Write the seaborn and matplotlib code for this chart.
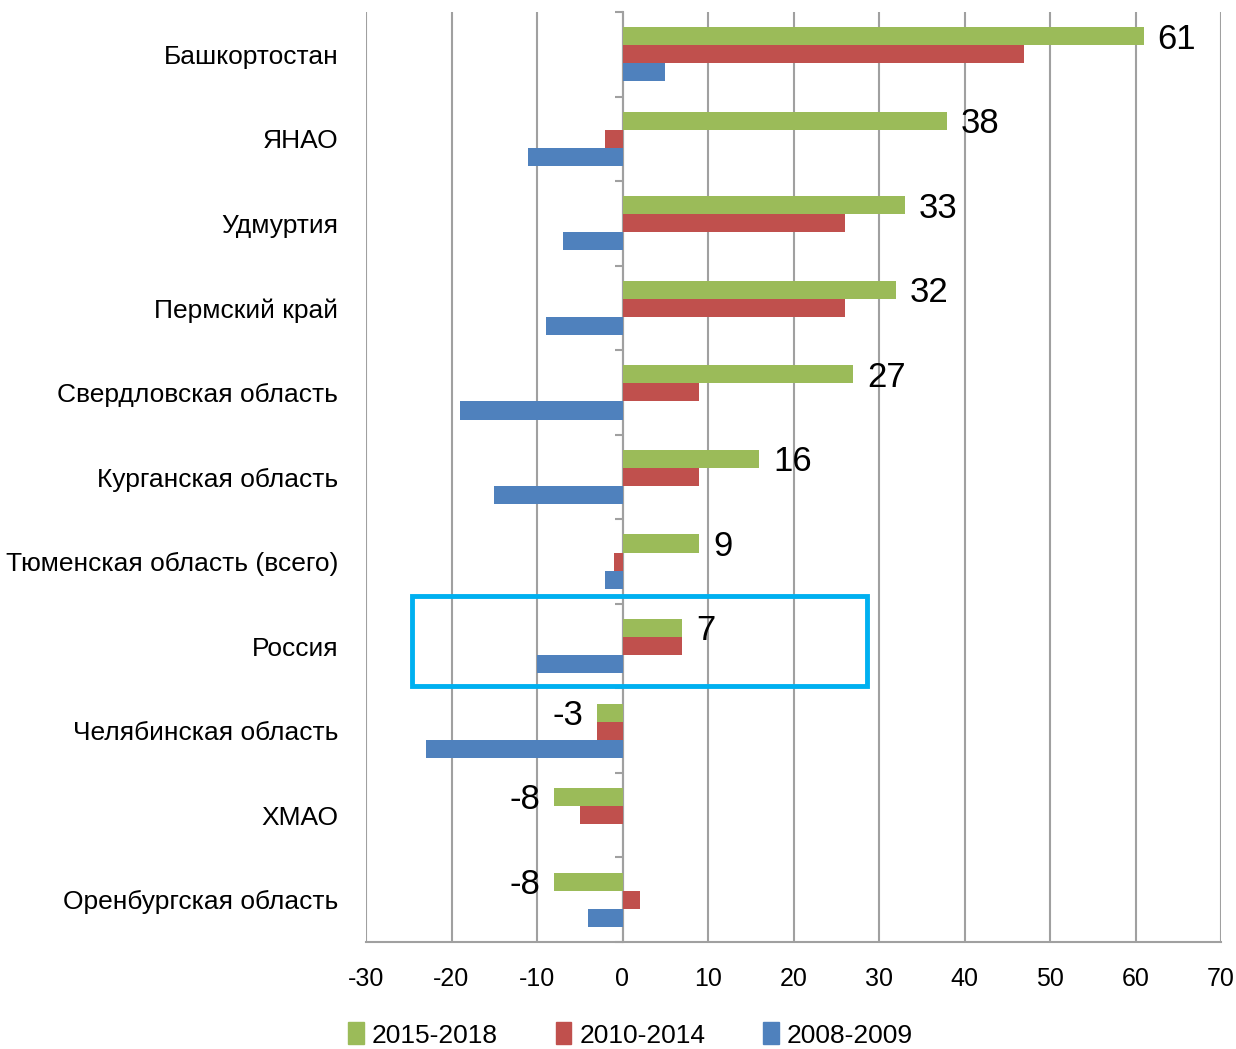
import pandas as pd
import matplotlib.pyplot as plt
import seaborn as sns
from matplotlib.patches import Rectangle

# data
regions = ["Башкортостан", "ЯНАО", "Удмуртия", "Пермский край",
           "Свердловская область", "Курганская область",
           "Тюменская область (всего)", "Россия", "Челябинская область",
           "ХМАО", "Оренбургская область"]
v_2015_2018 = [61, 38, 33, 32, 27, 16, 9, 7, -3, -8, -8]
v_2010_2014 = [47, -2, 26, 26, 9, 9, -1, 7, -3, -5, 2]
v_2008_2009 = [5, -11, -7, -9, -19, -15, -2, -10, -23, 0, -4]
periods = ["2015-2018", "2010-2014", "2008-2009"]
colors = ["#9bbb59", "#c0504d", "#4f81bd"]
xticks = list(range(-30, 71, 10))

df = pd.DataFrame({"region": regions * 3,
                   "period": [p for p in periods for _ in regions],
                   "value": v_2015_2018 + v_2010_2014 + v_2008_2009})

sns.set_style("white")
plt.rcParams["font.family"] = ["Liberation Sans", "DejaVu Sans"]
plt.rcParams["axes.unicode_minus"] = False
plt.rcParams["text.color"] = "black"

fig = plt.figure(figsize=(12.36, 10.49), dpi=100)
ax = fig.add_axes([366 / 1236, 1 - 942 / 1049, 855 / 1236, 930 / 1049])

sns.barplot(data=df, y="region", x="value", hue="period", hue_order=periods,
            palette=colors, orient="h", width=0.64, saturation=1,
            linewidth=0, ax=ax, legend=False)

ax.set_xlim(-30, 70)
ax.set_ylim(len(regions) - 0.5, -0.5)
ax.set_xticks(xticks)
ax.set_xlabel("")
ax.set_ylabel("")
ax.grid(axis="x", color="#a0a0a0", lw=1.5)
ax.set_axisbelow(True)
for s in ["top", "right", "left"]:
    ax.spines[s].set_visible(False)
ax.spines["bottom"].set_color("#a0a0a0")
ax.spines["bottom"].set_linewidth(1.5)
ax.tick_params(axis="x", direction="out", length=7, width=1.5, color="#a0a0a0",
               labelsize=18, labelcolor="black", pad=11)
ax.tick_params(axis="y", length=0, labelsize=19, labelcolor="black", pad=20)

# zero axis with category separators
sec = ax.secondary_yaxis(0.3)
sec.set_yticks([i - 0.5 for i in range(len(regions) + 1)])
sec.set_yticklabels([])
sec.spines["left"].set_color("#a0a0a0")
sec.spines["left"].set_linewidth(1.5)
sec.tick_params(axis="y", direction="out", length=6, width=1.5, color="#a0a0a0")

# value labels for the latest period
for i, v in enumerate(v_2015_2018):
    if v >= 0:
        ax.text(v + 1.6, i - 0.18, str(v), ha="left", va="center", fontsize=25)
    else:
        ax.text(v - 1.6, i - 0.18, str(v), ha="right", va="center", fontsize=25)

# highlight Russia
k = regions.index("Россия")
ax.add_patch(Rectangle((-24.6, k - 0.59), 53.2, 1.06, fill=False,
                       ec="#00b0f0", lw=3.5, clip_on=False, zorder=5))

handles = [Rectangle((0, 0), 1, 1, color=c) for c in colors]
fig.legend(handles, periods, loc="center left", bbox_to_anchor=(324 / 1236, 1 - 1035 / 1049),
           ncol=3, frameon=False, fontsize=19, handlelength=0.6, handleheight=0.9,
           handletextpad=0.3, columnspacing=2.2)

fig.savefig("out.png", dpi=100)
